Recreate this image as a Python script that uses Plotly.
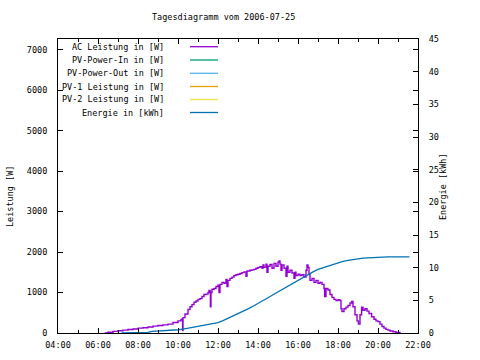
import plotly.graph_objects as go

# AC Leistung [W] (time in hours)
ac_t = [6.33, 6.5, 6.75, 7.0, 7.25, 7.5, 7.75, 8.0, 8.25, 8.5, 8.75, 9.0, 9.25, 9.5, 9.75, 10.0,
        10.15, 10.2, 10.23, 10.25, 10.35, 10.5, 10.6, 10.7, 10.8, 10.9, 11.0, 11.1, 11.2, 11.3,
        11.4, 11.5, 11.55, 11.6, 11.62, 11.65, 11.7, 11.8, 11.9, 12.0, 12.05, 12.1, 12.2, 12.3,
        12.4, 12.45, 12.5, 12.6, 12.7, 12.8, 12.9, 13.0, 13.1, 13.2, 13.3, 13.4, 13.45, 13.6,
        13.7, 13.8, 13.9, 14.0, 14.1, 14.2, 14.25, 14.3, 14.4, 14.45, 14.5, 14.6, 14.7, 14.8,
        14.9, 15.0, 15.05, 15.1, 15.15, 15.2, 15.3, 15.4, 15.45, 15.5, 15.6, 15.7, 15.8, 15.85,
        15.9, 16.0, 16.1, 16.2, 16.3, 16.4, 16.45, 16.5, 16.55, 16.6, 16.7, 16.8, 16.9, 17.0,
        17.1, 17.2, 17.3, 17.33, 17.4, 17.5, 17.6, 17.7, 17.8, 17.9, 18.0, 18.1, 18.15, 18.2,
        18.3, 18.4, 18.5, 18.6, 18.68, 18.75, 18.85, 18.95, 19.02, 19.1, 19.18, 19.25, 19.35,
        19.45, 19.55, 19.68, 19.8, 19.9, 20.0, 20.1, 20.2, 20.3, 20.4, 20.5, 20.6, 20.75, 20.9, 21.1]
ac_w = [0, 20, 40, 55, 70, 85, 100, 120, 130, 150, 170, 185, 200, 220, 260, 300,
        330, 350, 60, 380, 470, 580, 650, 700, 760, 790, 830, 850, 900, 950,
        960, 1000, 1050, 1030, 650, 1000, 1080, 1100, 1150, 1180, 1000, 1200, 1250, 1230,
        1320, 1150, 1300, 1350, 1380, 1420, 1440, 1450, 1470, 1490, 1510, 1400, 1530, 1550,
        1560, 1570, 1600, 1620, 1640, 1600, 1680, 1620, 1700, 1500, 1650, 1690, 1600, 1720,
        1650, 1750, 1780, 1700, 1550, 1680, 1600, 1400, 1650, 1500, 1550, 1480, 1350, 1500,
        1420, 1450, 1420, 1440, 1380, 1550, 1680, 1620, 1450, 1300, 1350, 1250, 1300, 1230,
        1250, 1200, 1100, 900, 1100, 1060, 950, 880, 830, 800, 820, 800, 600, 530,
        600, 640, 680, 740, 780, 650, 450, 300, 220, 450, 640, 560, 600,
        540, 480, 400, 340, 300, 280, 220, 160, 120, 90, 70, 50, 30, 15, 0]

# Energie [kWh]
en_t = [7.18, 7.5, 8.0, 8.5, 8.7, 9.0, 9.5, 10.0, 10.25, 10.5, 10.75, 11.0, 11.25, 11.5, 11.75,
        12.0, 12.25, 12.5, 12.75, 13.0, 13.25, 13.5, 13.75, 14.0, 14.25, 14.5, 14.75, 15.0,
        15.25, 15.5, 15.75, 16.0, 16.25, 16.5, 16.75, 17.0, 17.25, 17.5, 17.75, 18.0, 18.25,
        18.5, 18.75, 19.0, 19.25, 19.5, 19.75, 20.0, 20.25, 20.5, 21.0, 21.57]
en_kwh = [0.0, 0.0, 0.05, 0.1, 0.25, 0.3, 0.35, 0.5, 0.6, 0.75, 0.9, 1.0, 1.15, 1.3, 1.45,
          1.6, 1.9, 2.25, 2.55, 2.9, 3.3, 3.7, 4.1, 4.5, 4.95, 5.4, 5.85, 6.3,
          6.75, 7.2, 7.65, 8.1, 8.5, 8.9, 9.35, 9.75, 10.0, 10.25, 10.55, 10.8, 10.95,
          11.1, 11.25, 11.4, 11.45, 11.5, 11.55, 11.6, 11.62, 11.65, 11.65, 11.65]

legend_labels = ["AC Leistung in [W]", "PV-Power-In in [W]", "PV-Power-Out in [W]",
                 "PV-1 Leistung in [W]", "PV-2 Leistung in [W]", "Energie in [kWh]"]
legend_colors = ["#9400d3", "#009e73", "#56b4e9", "#e69f00", "#f0e442", "#0072b2"]

x_tickvals = [4, 6, 8, 10, 12, 14, 16, 18, 20, 22]
x_ticktext = ["04:00", "06:00", "08:00", "10:00", "12:00", "14:00", "16:00", "18:00", "20:00", "22:00"]
y_tickvals = [0, 1000, 2000, 3000, 4000, 5000, 6000, 7000]
y2_tickvals = [0, 5, 10, 15, 20, 25, 30, 35, 40, 45]

FONT = "DejaVu Sans Mono"

fig = go.Figure()
fig.add_trace(go.Scatter(x=ac_t, y=ac_w, mode="lines", line=dict(color=legend_colors[0], width=1.4, shape="hv"),
                         showlegend=False, yaxis="y"))
fig.add_trace(go.Scatter(x=en_t, y=en_kwh, mode="lines", line=dict(color=legend_colors[5], width=1.3, shape="linear"),
                         showlegend=False, yaxis="y2"))

W, H = 480, 360
PL, PR, PT, PB = 58, 418, 39, 333   # plot box in page pixels (body margin removed below)
L, T = PL, PT
pw = PR - PL
ph = PB - PT
R = W - L - pw
B = H - T - ph

def px_x(x):
    return (x - PL) / pw

def px_y(y):
    return (PB - y) / ph

annotations = []
shapes = []
rows_y = [46.7, 60, 73.3, 86.5, 99.5, 112.5]
for lab, col, yy in zip(legend_labels, legend_colors, rows_y):
    annotations.append(dict(text=lab, x=px_x(166), y=px_y(yy), xref="paper", yref="paper",
                            xanchor="right", yanchor="middle", showarrow=False,
                            font=dict(family=FONT, size=8.5, color="black")))
    shapes.append(dict(type="line", xref="paper", yref="paper", x0=px_x(190), x1=px_x(218),
                       y0=px_y(yy), y1=px_y(yy), line=dict(color=col, width=1.3)))

annotations.append(dict(text="Tagesdiagramm vom 2006-07-25", x=px_x(223), y=px_y(17), xref="paper", yref="paper",
                        xanchor="center", yanchor="middle", showarrow=False,
                        font=dict(family=FONT, size=8.5, color="black")))
annotations.append(dict(text="Leistung [W]", x=px_x(10), y=px_y(197), xref="paper", yref="paper",
                        xanchor="center", yanchor="middle", showarrow=False, textangle=-90,
                        font=dict(family=FONT, size=8.5, color="black")))
annotations.append(dict(text="Energie [kWh]", x=px_x(443), y=px_y(187), xref="paper", yref="paper",
                        xanchor="center", yanchor="middle", showarrow=False, textangle=-90,
                        font=dict(family=FONT, size=8.5, color="black")))

axis_common = dict(showgrid=False, zeroline=False, showline=True, linecolor="black", linewidth=1,
                   ticks="inside", tickcolor="black", tickwidth=1, ticklen=5, automargin=False,
                   tickfont=dict(family=FONT, size=8.5, color="black"))

fig.update_layout(
    width=W, height=H,
    margin=dict(l=L, r=R, t=T, b=B, pad=0, autoexpand=False),
    paper_bgcolor="white", plot_bgcolor="white",
    showlegend=False,
    xaxis=dict(range=[4, 22], tickvals=x_tickvals, ticktext=x_ticktext, mirror="ticks",
               minor=dict(dtick=1, tick0=4, ticks="inside", ticklen=3, tickcolor="black"),
               ticklabelstandoff=4, **axis_common),
    yaxis=dict(range=[0, 7260], tickvals=y_tickvals, mirror="ticks", ticklabelstandoff=8, **axis_common),
    yaxis2=dict(range=[0, 45], tickvals=y2_tickvals, overlaying="y", side="right", ticklabelstandoff=8,
                **axis_common),
    annotations=annotations,
    shapes=shapes,
)

fig.write_html("out.html", config={"displayModeBar": False},
               post_script="document.body.style.margin='0';")
